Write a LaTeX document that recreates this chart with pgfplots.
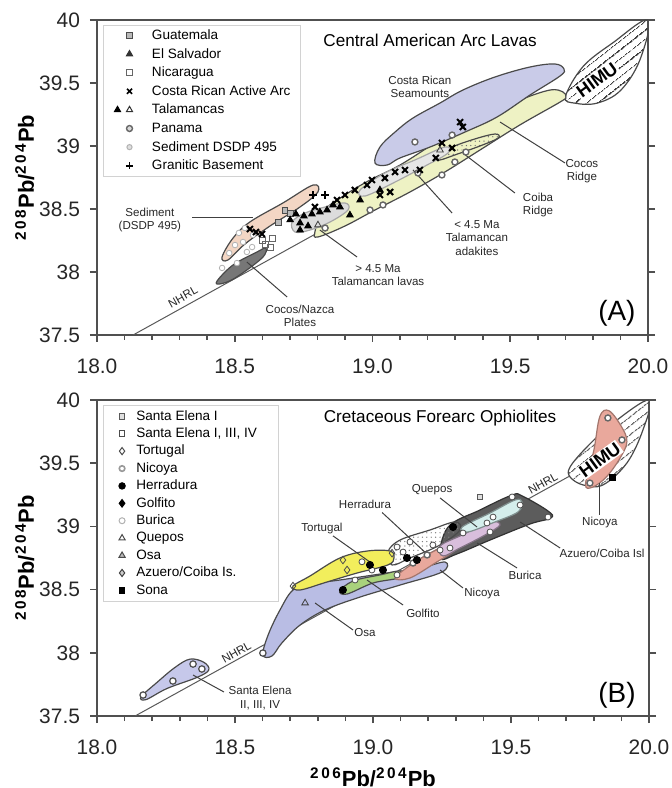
\documentclass[border=0pt]{standalone}
\usepackage{pgfplots}
\pgfplotsset{compat=1.18}
\usepackage{fontspec}
\setmainfont{Liberation Sans}
\usetikzlibrary{patterns.meta}

\definecolor{axisgray}{HTML}{505050}
\definecolor{edge}{HTML}{4A4A4A}
\definecolor{seam}{HTML}{C9CBE8}
\definecolor{cocos}{HTML}{EEF2C4}
\definecolor{sedim}{HTML}{F3D6C4}
\definecolor{nazca}{HTML}{777777}
\definecolor{lgray}{HTML}{DCDCDC}
\definecolor{osa}{HTML}{B9BDE4}
\definecolor{selena}{HTML}{C6C8EA}
\definecolor{tort}{HTML}{F2EE5C}
\definecolor{golf}{HTML}{A9D27C}
\definecolor{nicoya}{HTML}{E9A89C}
\definecolor{burica}{HTML}{D9BEDC}
\definecolor{quepos}{HTML}{D4EEEC}
\definecolor{azuero}{HTML}{5C5C5C}

\pgfplotsset{
  panel/.style={
    scale only axis, width=275.5bp, height=157.5bp,
    xmin=18, xmax=20, ymin=37.5, ymax=40,
    xtick={18,18.5,19,19.5,20}, minor x tick num=4,
    ytick={37.5,38,38.5,39,39.5,40},
    xtick pos=left, ytick pos=both,
    tick align=outside,
    major tick length=3.5bp, minor tick length=2.5bp,
    axis line style={draw=axisgray, line width=1bp},
    every tick/.style={draw=axisgray, line width=0.8bp},
    tick label style={font=\fontsize{10.5}{12}\selectfont, text=black!85},
    xticklabel style={yshift=-5bp, /pgf/number format/fixed, /pgf/number format/fixed zerofill, /pgf/number format/precision=1},
    yticklabel style={xshift=-1.5bp},
    /pgf/number format/assume math mode=true,
    ylabel={\textbf{\textsuperscript{2\,0\,8}Pb/\textsuperscript{2\,0\,4}Pb}},
    every axis y label/.style={at={(rel axis cs:-0.131,0.5)}, rotate=90, anchor=center, font=\fontsize{11}{13}\selectfont},
    legend cell align=left,
  },
  limgA/.style={legend image code/.code={\path (-4.5bp,0bp) (14.5bp,0bp); \draw[##1] plot coordinates {(5.5bp,0cm)};}},
  limgB/.style={legend image code/.code={\path (-1.5bp,0bp) (9.4bp,0bp); \draw[##1] plot coordinates {(4.5bp,0cm)};}},
  field/.style={smooth cycle, tension=0.6, draw=edge, line width=0.6bp, forget plot},
  pts/.style={only marks, forget plot},
}
\tikzset{
  lbl/.style={font=\fontsize{5.8}{6.8}\selectfont, align=center, inner sep=0pt, text=black!85},
  leader/.style={draw=black!75, line width=0.5bp},
}

\begin{document}
\begin{tikzpicture}
\useasboundingbox (0,0) rectangle (336bp,394bp);

% ================= Panel A =================
\begin{axis}[panel, at={(48.5bp,226.5bp)}, anchor=south west,
  legend style={font=\fontsize{6.8}{7.6}\selectfont, draw=gray!35, line width=0.5bp, fill=white,
    inner xsep=3bp, inner ysep=1.6bp, row sep=2.2bp,
    nodes={inner ysep=0pt, text height=5.5bp, text depth=1.6bp},
    at={(0.01,0.985)}, anchor=north west}]
\addlegendimage{limgA, mark=square*, mark size=1.5pt, mark options={fill=gray!55, draw=black!70}}
\addlegendentry{Guatemala}
\addlegendimage{limgA, mark=triangle*, mark size=1.8pt, mark options={fill=black!80, draw=black!80}}
\addlegendentry{El Salvador}
\addlegendimage{limgA, mark=square, mark size=1.5pt, mark options={draw=black!60, fill=white}}
\addlegendentry{Nicaragua}
\addlegendimage{limgA, mark=x, mark size=1.8pt, mark options={draw=black, line width=0.8bp}}
\addlegendentry{Costa Rican Active Arc}
\addlegendimage{legend image code/.code={
  \path (-4.5bp,0bp) (14.5bp,0bp);
  \draw[black, fill=black] plot[mark=triangle*, mark size=1.8pt] coordinates {(-0.5bp,0cm)};
  \draw[black!80] plot[mark=triangle, mark size=1.8pt] coordinates {(5.5bp,0cm)};}}
\addlegendentry{Talamancas}
\addlegendimage{limgA, mark=*, mark size=1.5pt, mark options={draw=gray!80!black, fill=gray!30, line width=0.7bp}}
\addlegendentry{Panama}
\addlegendimage{limgA, mark=*, mark size=1.3pt, mark options={draw=gray!60, fill=gray!25}}
\addlegendentry{Sediment DSDP 495}
\addlegendimage{limgA, mark=+, mark size=1.8pt, mark options={draw=black, line width=0.8bp}}
\addlegendentry{Granitic Basement}

% NHRL
\addplot[draw=black!65, line width=0.5bp, forget plot] coordinates {(18.131,37.5) (19.70,39.40)};
% HIMU
\addplot[field, fill=white, pattern={Lines[angle=38, distance=3.6bp, line width=0.5bp]}, pattern color=black!75] coordinates {
(19.700,39.390) (19.764,39.630) (19.873,39.820) (20.0,40.0) (19.970,39.680) (19.900,39.440) (19.815,39.340) (19.735,39.340)};
% Cocos Ridge
\addplot[field, fill=cocos] coordinates {
(18.791,38.317) (18.817,38.476) (18.900,38.611) (18.991,38.730) (19.100,38.849) (19.245,39.048) (19.390,39.222) (19.535,39.365) (19.644,39.444) (19.691,39.429) (19.702,39.389) (19.681,39.349) (19.535,39.167) (19.390,38.968) (19.263,38.794) (19.136,38.635) (19.009,38.492) (18.900,38.365) (18.802,38.278)};
% Costa Rican Seamounts
\addplot[field, fill=seam] coordinates {
(19.009,38.865) (19.027,38.992) (19.082,39.111) (19.147,39.222) (19.245,39.341) (19.328,39.444) (19.445,39.548) (19.572,39.627) (19.662,39.651) (19.695,39.611) (19.681,39.556) (19.572,39.405) (19.452,39.230) (19.336,39.111) (19.209,38.992) (19.100,38.905) (19.053,38.849)};
% Coiba Ridge
\addplot[field, fill=white, pattern={Dots[distance=2.2bp, radius=0.35bp]}, pattern color=black!55] coordinates {
(19.230,38.905) (19.281,38.984) (19.372,39.056) (19.445,39.095) (19.456,39.063) (19.390,39.000) (19.299,38.929) (19.245,38.889)};
% < 4.5 Ma adakites
\addplot[field, fill=lgray!70, draw=gray!70] coordinates {
(18.955,38.651) (19.045,38.786) (19.154,38.889) (19.263,38.992) (19.274,38.944) (19.191,38.841) (19.082,38.714) (18.973,38.603)};
% > 4.5 Ma lavas
\addplot[field, fill=lgray, draw=gray!70] coordinates {
(18.708,38.397) (18.755,38.468) (18.828,38.516) (18.900,38.548) (18.911,38.492) (18.846,38.397) (18.773,38.333) (18.719,38.317)};
% Sediment DSDP 495
\addplot[field, fill=sedim] coordinates {
(18.454,38.119) (18.494,38.270) (18.555,38.397) (18.675,38.548) (18.784,38.690) (18.802,38.635) (18.737,38.516) (18.628,38.365) (18.537,38.222) (18.475,38.095)};
% Cocos/Nazca
\addplot[field, fill=nazca] coordinates {
(18.436,37.929) (18.494,38.056) (18.581,38.159) (18.613,38.190) (18.599,38.111) (18.501,37.952) (18.446,37.905)};

% markers
\addplot[pts, mark=*, mark size=1.4pt, mark options={draw=gray!60, fill=white}] coordinates {
(18.537,38.349) (18.530,38.238) (18.566,38.294) (18.501,38.214) (18.563,38.198) (18.508,38.071) (18.454,38.032) (18.544,38.159) (18.515,38.310) (18.480,38.150)};
\addplot[pts, mark=square, mark size=1.5pt, mark options={draw=black!60, fill=white}] coordinates {
(18.635,38.270) (18.628,38.198) (18.599,38.254) (18.610,38.220)};
\addplot[pts, mark=square*, mark size=1.5pt, mark options={fill=gray!55, draw=black!70}] coordinates {
(18.682,38.492) (18.657,38.397) (18.701,38.468)};
\addplot[pts, mark=*, mark size=1.5pt, mark options={draw=gray!80!black, fill=white, line width=0.7bp}] coordinates {
(19.289,39.087) (19.339,38.952) (18.991,38.492) (19.038,38.532) (19.252,38.770) (18.828,38.349) (19.299,38.873) (19.154,39.032) (19.165,38.786)};
\addplot[pts, mark=triangle*, mark size=1.9pt, mark options={fill=black, draw=black}] coordinates {
(18.737,38.389) (18.751,38.444) (18.780,38.460) (18.809,38.476) (18.835,38.492) (18.857,38.532) (18.882,38.516) (18.766,38.365) (18.737,38.333) (18.918,38.452) (18.955,38.571) (19.027,38.651) (18.701,38.413) (18.722,38.460)};
\addplot[pts, mark=triangle, mark size=1.9pt, mark options={draw=black!75, fill=white}] coordinates {
(19.245,38.968) (18.802,38.373)};
\addplot[pts, mark=x, mark size=2.1pt, mark options={draw=black, line width=1bp}] coordinates {
(19.328,39.151) (19.318,39.190) (19.289,38.984) (19.252,39.024) (19.230,38.905) (19.172,38.810) (19.118,38.810) (19.082,38.794) (19.045,38.746) (18.998,38.730) (18.980,38.690) (18.936,38.651) (18.900,38.611) (18.871,38.571) (18.791,38.516) (18.577,38.317) (18.599,38.302) (18.555,38.341) (19.064,38.635) (19.027,38.611)};
\addplot[pts, mark=+, mark size=2pt, mark options={draw=black, line width=0.8bp}] coordinates {
(18.784,38.611) (18.828,38.611)};

% labels
\node[font=\fontsize{8.6}{10}\selectfont] at (axis cs:19.209,39.841) {Central American Arc Lavas};
\node[font=\fontsize{14}{16}\selectfont] at (axis cs:19.887,37.675) {(A)};
\node[lbl] at (axis cs:19.172,39.468) {Costa Rican\\Seamounts};
\node[lbl] at (axis cs:19.760,38.802) {Cocos\\Ridge};
\draw[leader] (axis cs:19.463,39.190) -- (axis cs:19.699,38.865);
\node[lbl] at (axis cs:19.601,38.532) {Coiba\\Ridge};
\draw[leader] (axis cs:19.328,38.944) -- (axis cs:19.517,38.627);
\node[lbl] at (axis cs:19.379,38.270) {{<} 4.5 Ma\\Talamancan\\adakites};
\draw[leader] (axis cs:19.147,38.810) -- (axis cs:19.289,38.468);
\node[lbl] at (axis cs:19.020,37.976) {{>} 4.5 Ma\\Talamancan lavas};
\draw[leader] (axis cs:18.809,38.333) -- (axis cs:18.944,38.119);
\node[lbl] at (axis cs:18.192,38.413) {Sediment\\(DSDP 495)};
\draw[leader] (axis cs:18.345,38.429) -- (axis cs:18.566,38.429);
\node[lbl] at (axis cs:18.737,37.651) {Cocos/Nazca\\Plates};
\draw[leader] (axis cs:18.544,38.079) -- (axis cs:18.690,37.802);
\node[lbl, rotate=29] at (axis cs:18.312,37.802) {NHRL};
\node[font=\bfseries\fontsize{9}{10}\selectfont, rotate=36, fill=white, inner sep=0.6bp] at (axis cs:19.815,39.524) {HIMU};
\end{axis}

% ================= Panel B =================
\begin{axis}[panel, at={(48.5bp,36bp)}, anchor=south west, width=276bp, height=158bp,
  xlabel={\textbf{\textsuperscript{2\,0\,6}Pb/\textsuperscript{2\,0\,4}Pb}},
  every axis x label/.style={at={(rel axis cs:0.5,-0.193)}, anchor=center, font=\fontsize{11}{13}\selectfont},
  legend style={font=\fontsize{6.8}{7.6}\selectfont, draw=gray!35, line width=0.5bp, fill=white,
    inner xsep=3bp, inner ysep=2.2bp, row sep=2.0bp,
    nodes={inner ysep=0pt, text height=5.2bp, text depth=1.5bp},
    at={(0.011,0.985)}, anchor=north west}]
\addlegendimage{limgB, mark=square*, mark size=1.4pt, mark options={fill=gray!25, draw=gray!70!black}}
\addlegendentry{Santa Elena I}
\addlegendimage{limgB, mark=square, mark size=1.4pt, mark options={draw=gray!60!black, fill=white}}
\addlegendentry{Santa Elena I, III, IV\rule{6bp}{0pt}}
\addlegendimage{limgB, mark=diamond, mark size=1.8pt, mark options={draw=gray!60!black, fill=white}}
\addlegendentry{Tortugal}
\addlegendimage{limgB, mark=*, mark size=1.4pt, mark options={draw=gray!80, fill=white, line width=0.8bp}}
\addlegendentry{Nicoya}
\addlegendimage{limgB, mark=*, mark size=1.6pt, mark options={draw=black, fill=black}}
\addlegendentry{Herradura}
\addlegendimage{limgB, mark=diamond*, mark size=1.9pt, mark options={draw=black, fill=black}}
\addlegendentry{Golfito}
\addlegendimage{limgB, mark=*, mark size=1.5pt, mark options={draw=gray!60, fill=white}}
\addlegendentry{Burica}
\addlegendimage{limgB, mark=triangle, mark size=1.8pt, mark options={draw=gray!60!black, fill=white}}
\addlegendentry{Quepos}
\addlegendimage{limgB, mark=triangle*, mark size=1.8pt, mark options={draw=gray!60!black, fill=gray!55}}
\addlegendentry{Osa}
\addlegendimage{limgB, mark=diamond*, mark size=1.8pt, mark options={draw=gray!50!black, fill=gray!40}}
\addlegendentry{Azuero/Coiba Is.}
\addlegendimage{limgB, mark=square*, mark size=1.4pt, mark options={draw=black, fill=black}}
\addlegendentry{Sona}

% NHRL
\addplot[draw=black!65, line width=0.5bp, forget plot] coordinates {(18.138,37.5) (19.714,39.40)};
% HIMU
\addplot[field, fill=white, pattern={Lines[angle=38, distance=3.6bp, line width=0.5bp]}, pattern color=black!75] coordinates {
(19.714,39.470) (19.775,39.628) (19.870,39.818) (20.000,40.000) (19.978,39.763) (19.920,39.502) (19.833,39.328) (19.761,39.328) (19.714,39.391)};
% Nicoya (HIMU end)
\addplot[field, fill=nicoya, draw=nicoya!70!black] coordinates {
(19.770,39.335) (19.800,39.600) (19.822,39.870) (19.855,39.915) (19.900,39.790) (19.920,39.670) (19.895,39.540) (19.845,39.390) (19.795,39.310)};
% Santa Elena
\addplot[field, fill=selena] coordinates {
(18.160,37.652) (18.217,37.765) (18.283,37.885) (18.337,37.950) (18.387,37.925) (18.405,37.864) (18.362,37.805) (18.254,37.718) (18.178,37.630)};
% Osa
\addplot[field, fill=osa] coordinates {
(18.601,37.983) (18.620,38.141) (18.663,38.339) (18.710,38.497) (18.772,38.544) (18.880,38.576) (19.025,38.623) (19.170,38.671) (19.261,38.718) (19.250,38.639) (19.098,38.536) (18.953,38.441) (18.826,38.339) (18.736,38.220) (18.670,38.078) (18.634,37.975)};
% Azuero/Coiba
\addplot[field, fill=azuero, draw=black!80] coordinates {
(19.272,38.995) (19.388,39.130) (19.504,39.248) (19.540,39.241) (19.634,39.122) (19.645,39.067) (19.569,39.019) (19.424,38.892) (19.304,38.782) (19.243,38.750)};
% Herradura
\addplot[field, fill=white, pattern={Dots[distance=2.2bp, radius=0.35bp]}, pattern color=black!50] coordinates {
(19.054,38.798) (19.098,38.892) (19.207,38.972) (19.297,39.035) (19.315,38.972) (19.243,38.853) (19.134,38.750) (19.069,38.695)};
% Tortugal
\addplot[field, fill=tort] coordinates {
(18.710,38.528) (18.772,38.608) (18.880,38.750) (18.978,38.805) (19.062,38.805) (19.076,38.750) (19.054,38.695) (18.942,38.631) (18.833,38.560) (18.736,38.497)};
% Golfito
\addplot[field, fill=golf] coordinates {
(18.880,38.489) (18.928,38.568) (19.025,38.616) (19.098,38.647) (19.091,38.592) (19.000,38.552) (18.906,38.465)};
% Nicoya (lower)
\addplot[field, fill=nicoya, draw=nicoya!70!black] coordinates {
(19.080,38.592) (19.152,38.718) (19.243,38.829) (19.308,38.892) (19.297,38.813) (19.225,38.710) (19.134,38.592)};
% Burica
\addplot[field, fill=burica, draw=burica!60!black] coordinates {
(19.243,38.845) (19.323,38.932) (19.424,39.035) (19.460,39.011) (19.406,38.932) (19.315,38.829) (19.254,38.766)};
% Quepos
\addplot[field, fill=quepos, draw=quepos!60!black] coordinates {
(19.323,38.995) (19.424,39.106) (19.515,39.209) (19.540,39.193) (19.525,39.114) (19.442,39.035) (19.344,38.956)};

% markers
\addplot[pts, mark=*, mark size=1.6pt, mark options={draw=gray!60!black, fill=white, line width=0.6bp}] coordinates {
(18.167,37.666) (18.275,37.777) (18.348,37.911) (18.380,37.872) (18.601,37.998)};
\addplot[pts, mark=*, mark size=1.5pt, mark options={draw=gray!60!black, fill=white}] coordinates {
(19.087,38.837) (19.109,38.797) (19.134,38.877) (19.217,38.853) (19.243,38.813) (19.087,38.616) (18.935,38.576) (18.996,38.655) (19.413,39.027) (19.435,39.074) (19.504,39.233) (19.533,39.169) (19.634,39.074) (19.424,38.956) (19.326,38.948) (19.279,38.829) (18.960,38.720)};
\addplot[pts, mark=*, mark size=1.5pt, mark options={draw=gray!80!black, fill=white, line width=0.7bp}] coordinates {
(19.851,39.858) (19.902,39.684) (19.786,39.343) (19.196,38.774) (19.145,38.710)};
\addplot[pts, mark=diamond, mark size=1.9pt, mark options={draw=gray!60!black, fill=white}] coordinates {
(18.710,38.528) (18.891,38.734) (18.906,38.655) (19.069,38.788)};
\addplot[pts, mark=*, mark size=1.8pt, mark options={draw=black, fill=black}] coordinates {
(18.989,38.695) (19.036,38.655) (19.123,38.750) (19.159,38.734) (19.290,38.995) (18.891,38.497)};
\addplot[pts, mark=triangle, mark size=1.9pt, mark options={draw=gray!50!black, fill=white}] coordinates {
(18.754,38.394)};
\addplot[pts, mark=square*, mark size=1.4pt, mark options={fill=gray!25, draw=gray!70!black}] coordinates {
(19.388,39.233)};
\addplot[pts, mark=square*, mark size=1.5pt, mark options={fill=black, draw=black}] coordinates {
(19.866,39.391)};

% labels
\node[font=\fontsize{8.6}{10}\selectfont] at (axis cs:19.243,39.858) {Cretaceous Forearc Ophiolites};
\node[font=\fontsize{14}{16}\selectfont] at (axis cs:19.884,37.666) {(B)};
\node[lbl] at (axis cs:18.815,38.987) {Tortugal};
\draw[leader] (axis cs:18.855,38.925) -- (axis cs:18.989,38.718);
\node[lbl] at (axis cs:18.971,39.177) {Herradura};
\draw[leader] (axis cs:19.033,39.110) -- (axis cs:19.207,38.758);
\node[lbl] at (axis cs:19.214,39.288) {Quepos};
\draw[leader] (axis cs:19.243,39.225) -- (axis cs:19.377,38.995);
\node[lbl] at (axis cs:19.551,38.616) {Burica};
\draw[leader] (axis cs:19.377,38.869) -- (axis cs:19.522,38.671);
\node[lbl] at (axis cs:19.830,38.790) {Azuero/Coiba Isl};
\draw[leader] (axis cs:19.533,39.035) -- (axis cs:19.678,38.829);
\node[lbl] at (axis cs:19.822,39.027) {Nicoya};
\draw[leader] (axis cs:19.819,39.343) -- (axis cs:19.819,39.090);
\node[lbl] at (axis cs:19.395,38.473) {Nicoya};
\draw[leader] (axis cs:19.243,38.655) -- (axis cs:19.326,38.513);
\node[lbl] at (axis cs:19.181,38.315) {Golfito};
\draw[leader] (axis cs:18.978,38.576) -- (axis cs:19.109,38.378);
\node[lbl] at (axis cs:18.971,38.157) {Osa};
\draw[leader] (axis cs:18.790,38.394) -- (axis cs:18.928,38.180);
\node[lbl] at (axis cs:18.591,37.642) {Santa Elena\\II, III, IV};
\draw[leader] (axis cs:18.348,37.824) -- (axis cs:18.460,37.690);
\node[lbl, rotate=29] at (axis cs:18.505,38.000) {NHRL};
\node[lbl, rotate=29] at (axis cs:19.616,39.343) {NHRL};
\node[font=\bfseries\fontsize{9}{10}\selectfont, rotate=36, fill=white, inner sep=0.6bp] at (axis cs:19.822,39.525) {HIMU};
\end{axis}
\end{tikzpicture}
\end{document}
